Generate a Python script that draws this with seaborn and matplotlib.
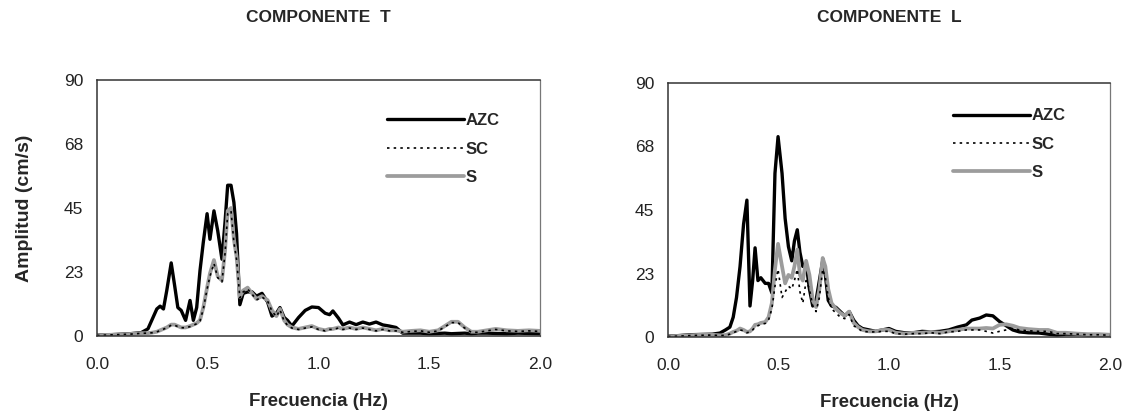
import numpy as np
import pandas as pd
import matplotlib
matplotlib.use("Agg")
import matplotlib.pyplot as plt
import seaborn as sns

# ---- data (frequency in Hz, amplitude in cm/s) ----
freq_t = [0.00, 0.05, 0.10, 0.15, 0.20, 0.23, 0.25, 0.27, 0.285, 0.30,
          0.315, 0.335, 0.35, 0.365, 0.38, 0.40, 0.42, 0.435, 0.45, 0.465,
          0.48, 0.497, 0.51, 0.528, 0.545, 0.564, 0.578, 0.59, 0.605, 0.618,
          0.63, 0.645, 0.66, 0.68, 0.70, 0.72, 0.745, 0.77, 0.79, 0.81,
          0.826, 0.845, 0.86, 0.88, 0.91, 0.94, 0.97, 1.00, 1.03, 1.05,
          1.065, 1.09, 1.11, 1.14, 1.17, 1.20, 1.23, 1.26, 1.29, 1.32,
          1.35, 1.38, 1.42, 1.46, 1.50, 1.54, 1.57, 1.60, 1.63, 1.66,
          1.69, 1.72, 1.76, 1.80, 1.85, 1.90, 1.95, 2.00]

azc_t = [0.3, 0.4, 0.6, 0.8, 1.2, 2.5, 6, 9.5, 10.5, 9.5,
         16, 25.7, 18, 10, 9, 5.5, 12.5, 5.5, 10, 23,
         33, 43, 34, 44, 37, 27, 40, 53, 53, 47,
         36, 11, 15, 15.5, 15.5, 14, 15, 12, 7, 8,
         10, 6.5, 5.5, 3.5, 6.5, 9, 10.2, 10, 8, 7.5,
         8.8, 6.3, 3.9, 4.9, 4.0, 4.9, 4.2, 4.9, 3.9, 3.5,
         3, 1, 1, 1, 0.8, 0.9, 1, 0.8, 0.9, 1,
         0.8, 1, 1, 0.9, 0.8, 1, 0.9, 0.8]

sc_t = [0.2, 0.35, 0.5, 0.65, 0.95, 1.0, 1.15, 1.45, 1.9, 2.4,
        2.9, 3.8, 3.8, 3.3, 2.9, 2.9, 3.3, 3.8, 4.3, 5.3,
        9.5, 16.5, 21, 25.5, 20.5, 19, 29, 43, 44, 33,
        27, 13.4, 15.5, 16.5, 14.7, 12.7, 13.7, 12.3, 8.7, 6.8,
        9.2, 5.2, 3.8, 2.8, 2.3, 2.8, 3.2, 2.3, 1.8, 2.3,
        2.3, 2.8, 2.3, 2.8, 2.3, 2.8, 2.3, 1.8, 2.3, 1.8,
        1.8, 1.3, 1.6, 1.8, 1.3, 1.8, 3.2, 4.7, 4.7, 2.8,
        1.3, 1.3, 1.8, 2.3, 1.8, 1.6, 1.8, 1.6]

s_t = [0.2, 0.4, 0.5, 0.7, 1.0, 1.0, 1.2, 1.5, 2.0, 2.5,
       3, 4, 4, 3.5, 3, 3, 3.5, 4, 4.5, 5.6,
       10, 17, 22, 26.7, 21, 19.5, 30, 44, 45, 34,
       28, 13.7, 16, 17, 15, 13, 14, 12.6, 9, 7,
       9.5, 5.5, 4, 3, 2.5, 3, 3.5, 2.5, 2, 2.5,
       2.5, 3, 2.5, 3, 2.5, 3, 2.5, 2, 2.5, 2,
       2, 1.5, 1.8, 2, 1.5, 2, 3.5, 5, 5, 3,
       1.5, 1.5, 2, 2.5, 2, 1.8, 2, 1.8]

freq_l = [0.00, 0.05, 0.10, 0.15, 0.20, 0.235, 0.26, 0.28, 0.295, 0.31,
          0.326, 0.342, 0.357, 0.371, 0.383, 0.394, 0.407, 0.42, 0.44, 0.455,
          0.47, 0.484, 0.498, 0.516, 0.53, 0.545, 0.56, 0.572, 0.585, 0.597,
          0.61, 0.625, 0.64, 0.655, 0.67, 0.685, 0.70, 0.712, 0.725, 0.74,
          0.76, 0.78, 0.80, 0.82, 0.84, 0.86, 0.88, 0.91, 0.94, 0.97,
          1.00, 1.03, 1.07, 1.11, 1.15, 1.19, 1.23, 1.27, 1.31, 1.35,
          1.375, 1.41, 1.44, 1.47, 1.50, 1.53, 1.56, 1.59, 1.63, 1.68,
          1.72, 1.76, 1.80, 1.85, 1.90, 1.95, 2.00]

azc_l = [0.3, 0.5, 0.8, 0.9, 1.0, 1.4, 2.5, 3.5, 7, 14,
         25, 40, 48.5, 11, 20, 31.6, 20, 21, 19, 19,
         15.6, 58, 71, 58, 42, 32, 27, 34, 38, 30,
         25, 26, 17, 11, 13, 20, 27, 22, 13, 11,
         10.5, 9, 7.5, 9, 6, 4, 3, 2.5, 2, 2.5,
         3, 2, 1.5, 1.5, 2, 1.8, 2, 2.5, 3.5, 4.3,
         6, 6.7, 7.8, 7.5, 5.5, 4, 2.5, 1.8, 1.5, 1.4,
         1, 0.7, 1, 1, 0.8, 0.8, 0.7]

sc_l = [0.2, 0.3, 0.5, 0.6, 0.7, 0.5, 0.6, 1.0, 1.5, 2.0,
        2.5, 2.2, 1.5, 1.8, 2.5, 3.5, 4, 4.5, 4.8, 6,
        10, 18, 24, 14, 16, 18, 17, 20, 24, 16,
        12, 20, 17, 11, 9, 14, 24, 21, 14, 10,
        8.5, 7, 6.5, 8, 4, 3, 2, 1.8, 1.8, 2,
        2, 1.2, 1, 1.2, 1.2, 1.5, 1.2, 1.8, 2, 2.5,
        2.5, 2.5, 2, 1.4, 2, 2.5, 3, 2.5, 2.2, 2,
        2, 1.2, 1.2, 1, 0.8, 0.8, 0.6]

s_l = [0.2, 0.4, 0.6, 0.8, 0.8, 0.6, 0.7, 1.2, 1.8, 2.2,
       3, 2.5, 1.8, 2, 3, 4.3, 4.5, 5, 5.3, 7,
       12, 24, 33, 25, 19, 22, 21, 25, 31, 22,
       20, 27, 22, 13, 10.6, 17, 28, 25, 17, 12,
       10, 8.5, 7.5, 9, 5, 3.5, 2.5, 2, 2, 2.5,
       2.5, 1.5, 1.2, 1.5, 1.5, 1.8, 1.5, 2, 2.5, 3,
       3, 3, 3.2, 3, 4.3, 4.5, 4, 3.2, 2.8, 2.5,
       2.5, 1.5, 1.5, 1.2, 1, 1, 0.8]

titles = ["COMPONENTE  T", "COMPONENTE  L"]
series_names = ["AZC", "SC", "S"]
y_ticks = [0, 22.5, 45, 67.5, 90]
y_tick_labels = ["0", "23", "45", "68", "90"]
x_ticks = [0.0, 0.5, 1.0, 1.5, 2.0]
x_tick_labels = ["0.0", "0.5", "1.0", "1.5", "2.0"]

sns.set_theme(style="white")
plt.rcParams["font.family"] = ["Liberation Sans", "DejaVu Sans"]

W, H = 1123, 416
fig = plt.figure(figsize=(W / 100, H / 100), dpi=100)

# axes boxes in pixels: left, right, top, bottom
boxes = [(97, 540, 80, 336), (668, 1110, 83, 337)]
legend_anchor = [(0.655, 0.87), (0.645, 0.90)]

panels = [
    (freq_t, azc_t, sc_t, s_t),
    (freq_l, azc_l, sc_l, s_l),
]

styles = {
    "AZC": dict(color="black", lw=2.4, ls="-"),
    "SC": dict(color="black", lw=1.2, ls=(0, (1.5, 2.5))),
    "S": dict(color="#9c9c9c", lw=2.7, ls="-"),
}

for i, (freq, azc, sc, s) in enumerate(panels):
    l, r, t, b = boxes[i]
    ax = fig.add_axes([l / W, 1 - b / H, (r - l) / W, (b - t) / H])

    df = pd.DataFrame({"f": freq, "AZC": azc, "SC": sc, "S": s})
    for name in ["AZC", "S", "SC"]:
        sns.lineplot(data=df, x="f", y=name, ax=ax, label=name,
                     color=styles[name]["color"], lw=styles[name]["lw"],
                     ls=styles[name]["ls"])
    h, lab = ax.get_legend_handles_labels()
    order = [lab.index(n) for n in series_names]
    ax.legend([h[k] for k in order], series_names, loc="upper left",
              bbox_to_anchor=legend_anchor[i], frameon=False,
              handlelength=4.6, handletextpad=0.1, labelspacing=0.8,
              borderpad=0, borderaxespad=0,
              prop={"weight": "bold", "size": 12})

    ax.set_xlim(0, 2.0)
    ax.set_ylim(0, 90)
    ax.set_xticks(x_ticks)
    ax.set_xticklabels(x_tick_labels)
    ax.set_yticks(y_ticks)
    ax.set_yticklabels(y_tick_labels)
    ax.tick_params(axis="both", direction="out", length=5, width=1,
                   color="#333333", labelsize=12.5, labelcolor="#222222")
    ax.tick_params(axis="x", pad=10)
    ax.tick_params(axis="y", pad=5)
    ax.set_xlabel("Frecuencia (Hz)", fontsize=13.5, fontweight="bold",
                  labelpad=15)
    if i == 0:
        ax.set_ylabel("Amplitud (cm/s)", fontsize=14, fontweight="bold",
                      labelpad=22)
    else:
        ax.set_ylabel("")
    for sp in ax.spines.values():
        sp.set_color("#333333")
        sp.set_linewidth(1.1)
    ax.spines["right"].set_color("#777777")
    ax.spines["right"].set_linewidth(0.9)
    ax.grid(False)

    fig.text(((l + r) / 2) / W, 1 - 18 / H, titles[i], ha="center",
             va="center", fontsize=12.5, fontweight="bold")

fig.savefig("out.png", dpi=100)
